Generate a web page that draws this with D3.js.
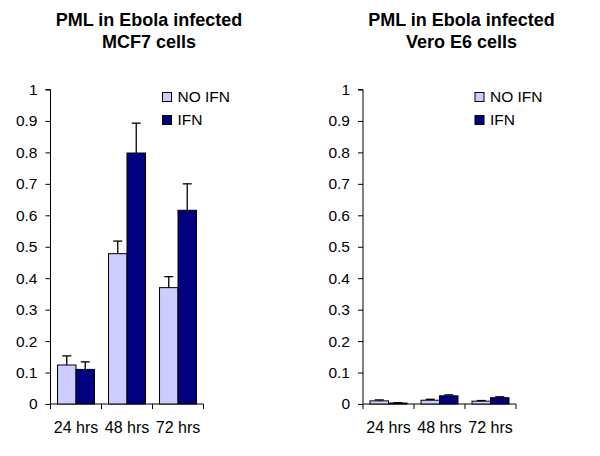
<!DOCTYPE html>
<html><head><meta charset="utf-8">
<script src="https://cdn.jsdelivr.net/npm/d3@7"></script>
<style>body{margin:0;background:#fff}svg{display:block}text{font-family:Arial,"Liberation Sans",sans-serif}</style>
</head><body><svg id="c" width="600" height="456"></svg>
<script>
const categories = ["24 hrs", "48 hrs", "72 hrs"];
const seriesNames = ["NO IFN", "IFN"];
const seriesColors = ["#CCCCFF", "#000080"];
const yTicks = [0, 0.1, 0.2, 0.3, 0.4, 0.5, 0.6, 0.7, 0.8, 0.9, 1];
const mcf7Titles = ["PML in Ebola infected", "MCF7 cells"];
const mcf7NoIfn = [0.124, 0.478, 0.370];
const mcf7NoIfnErr = [0.153, 0.518, 0.405];
const mcf7Ifn = [0.110, 0.798, 0.616];
const mcf7IfnErr = [0.134, 0.893, 0.700];
const veroTitles = ["PML in Ebola infected", "Vero E6 cells"];
const veroNoIfn = [0.010, 0.012, 0.009];
const veroNoIfnErr = [0.013, 0.015, 0.011];
const veroIfn = [0.003, 0.026, 0.020];
const veroIfnErr = [0.004, 0.029, 0.023];

const svg = d3.select("#c");
const FF = "Arial, 'Liberation Sans', sans-serif";

function panel(ox, titles, vals, errs) {
  const g = svg.append("g");
  const x0 = ox, x1 = ox + 153;
  const y = d3.scaleLinear().domain([0, 1]).range([404, 89.5]);
  const x = d3.scaleBand().domain(categories).range([x0, x1]).paddingInner(0).paddingOuter(0);
  const xs = d3.scaleBand().domain([0, 1]).range([0, x.bandwidth()]).paddingOuter(0.38).paddingInner(0);

  // title
  titles.forEach((t, i) => {
    g.append("text").attr("x", ox + 98.5).attr("y", 25.7 + i * 22)
      .attr("text-anchor", "middle").attr("font-size", 18).attr("font-weight", "bold").text(t);
  });

  // y axis
  const ya = d3.axisLeft(y).tickValues(yTicks).tickSize(5).tickFormat(d3.format("~g"));
  const yg = g.append("g").attr("transform", `translate(${x0},0)`).call(ya);
  yg.select(".domain").attr("stroke", "#000").attr("d", `M-5,${y(1)}H0V${y(0)}`);
  yg.selectAll(".tick text").attr("font-size", 15.5).attr("font-family", FF).attr("x", -13).attr("fill", "#000");

  // x axis
  const xa = d3.axisBottom(x).tickSize(0);
  const xg = g.append("g").attr("transform", `translate(0,${y(0)})`).call(xa);
  xg.select(".domain").attr("stroke", "#000").attr("d", `M${x0},0H${x1}`);
  xg.selectAll(".tick text").attr("font-size", 16).attr("font-family", FF).attr("dy", 0).attr("y", 29).attr("fill", "#000");
  const bounds = [0, 1, 2, 3].map(i => x0 + i * x.bandwidth());
  xg.selectAll(".xt").data(bounds).enter().append("line")
    .attr("x1", d => d).attr("x2", d => d).attr("y1", 0).attr("y2", 5).attr("stroke", "#000");

  // bars
  vals.forEach((arr, s) => {
    arr.forEach((v, i) => {
      const bx = x(categories[i]) + xs(s);
      const bw = xs.bandwidth();
      const cx = bx + bw / 2;
      const e = errs[s][i];
      g.append("line").attr("x1", cx).attr("x2", cx).attr("y1", y(v)).attr("y2", y(e)).attr("stroke", "#000").attr("stroke-width", 1.3);
      g.append("line").attr("x1", cx - 4.5).attr("x2", cx + 4.5).attr("y1", y(e)).attr("y2", y(e)).attr("stroke", "#000").attr("stroke-width", 1.3);
      g.append("rect").attr("x", bx).attr("y", y(v)).attr("width", bw).attr("height", y(0) - y(v))
        .attr("fill", seriesColors[s]).attr("stroke", "#000").attr("stroke-width", 1);
    });
  });

  // legend
  seriesNames.forEach((n, i) => {
    const ly = 97 + i * 23;
    g.append("rect").attr("x", ox + 112).attr("y", ly - 4.5).attr("width", 9).attr("height", 9)
      .attr("fill", seriesColors[i]).attr("stroke", "#000").attr("stroke-width", 1);
    g.append("text").attr("x", ox + 127).attr("y", ly + 5).attr("font-size", 15.5).text(n);
  });
}

panel(50.5, mcf7Titles, [mcf7NoIfn, mcf7Ifn], [mcf7NoIfnErr, mcf7IfnErr]);
panel(363, veroTitles, [veroNoIfn, veroIfn], [veroNoIfnErr, veroIfnErr]);
</script></body></html>
